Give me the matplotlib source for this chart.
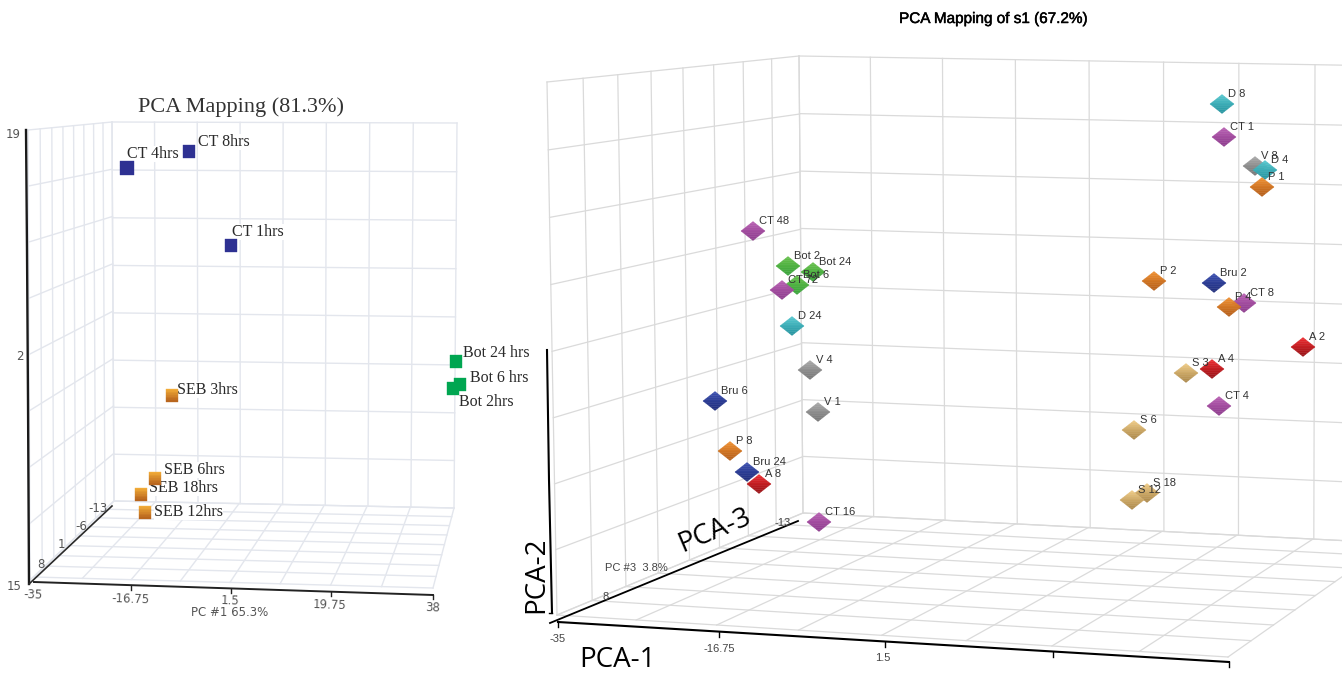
import numpy as np
import matplotlib
matplotlib.use("Agg")
import matplotlib.pyplot as plt
import matplotlib.patheffects as pe

# === Left panel data (in image pixels) ===
left_names = ["CT 4hrs", "CT 8hrs", "CT 1hrs", "Bot 24 hrs", "Bot 6 hrs", "Bot 2hrs",
              "SEB 3hrs", "SEB 6hrs", "SEB 18hrs", "SEB 12hrs"]
left_x = [127, 189, 231, 456, 460, 453, 172, 155, 141, 145]
left_y = [168, 151, 245, 361, 384, 388, 395, 478, 494, 512]
left_group = ["CT", "CT", "CT", "Bot", "Bot", "Bot", "SEB", "SEB", "SEB", "SEB"]
left_label_x = [127, 198, 232, 463, 470, 459, 177, 164, 149, 154]
left_label_y = [154, 142, 232, 353, 378, 402, 390, 470, 488, 512]

# === Right panel data ===
right_names = ["CT 48", "Bot 2", "Bot 6", "Bot 24", "CT 72", "D 24", "V 4", "V 1", "Bru 6", "P 8",
               "Bru 24", "A 8", "CT 16", "D 8", "CT 1", "V 8", "D 4", "P 1", "P 2", "Bru 2",
               "CT 8", "P 4", "A 2", "S 3", "A 4", "CT 4", "S 6", "S 18", "S 12"]
right_x = [753, 788, 797, 813, 782, 792, 810, 818, 715, 730,
           747, 759, 819, 1222, 1224, 1255, 1265, 1262, 1154, 1214,
           1244, 1229, 1303, 1186, 1212, 1219, 1134, 1147, 1132]
right_y = [231, 266, 285, 272, 290, 326, 370, 412, 401, 451,
           472, 484, 522, 104, 137, 166, 170, 187, 281, 283,
           303, 307, 347, 373, 369, 406, 430, 493, 500]
right_group = ["CT", "Bot", "Bot", "Bot", "CT", "D", "V", "V", "Bru", "P",
               "Bru", "A", "CT", "D", "CT", "V", "D", "P", "P", "Bru",
               "CT", "P", "A", "S", "A", "CT", "S", "S", "S"]

# tick labels
left_xticks = ["-35", "-16.75", "1.5", "19.75", "38"]
left_zticks = ["15", "8", "1", "-6", "-13"]
right_xticks = ["-35", "-16.75", "1.5"]

# colours
square_top = {"CT": "#2e3192", "Bot": "#00a651", "SEB": "#f7b23b"}
square_bot = {"CT": "#2e3192", "Bot": "#00a651", "SEB": "#b5611c"}
diamond_top = {"CT": "#b85fb2", "Bot": "#66c04a", "D": "#55c8cf", "V": "#a8a8a8", "Bru": "#3a4fb0",
               "P": "#f09030", "A": "#ee2a2e", "S": "#efcb85"}
diamond_bot = {"CT": "#8c3a8c", "Bot": "#38a23a", "D": "#24929e", "V": "#747474", "Bru": "#1f2c7a",
               "P": "#b35c18", "A": "#961216", "S": "#a98648"}


def quad_map(corners):
    # homographie du carre unite vers le quadrilatere
    src = [(0, 0), (1, 0), (1, 1), (0, 1)]
    A, b = [], []
    for (u, v), (x, y) in zip(src, corners):
        A.append([u, v, 1, 0, 0, 0, -u * x, -v * x])
        A.append([0, 0, 0, u, v, 1, -u * y, -v * y])
        b += [x, y]
    h = np.linalg.solve(np.array(A, float), np.array(b, float))

    def f(u, v):
        w = h[6] * u + h[7] * v + 1
        return (h[0] * u + h[1] * v + h[2]) / w, (h[3] * u + h[4] * v + h[5]) / w
    return f


def grid(ax, corners, color, lw, n=8):
    f = quad_map(corners)
    for i in range(n + 1):
        t = i / n
        ax.plot(*zip(f(t, 0), f(t, 1)), color=color, lw=lw, zorder=1)
        ax.plot(*zip(f(0, t), f(1, t)), color=color, lw=lw, zorder=1)


def blend(c1, c2, t):
    a = np.array(matplotlib.colors.to_rgb(c1))
    b = np.array(matplotlib.colors.to_rgb(c2))
    return a + (b - a) * t


def diamond(ax, x, y, top, bot, hw=12, hh=9.5, n=10):
    edges = np.linspace(-hh, hh, n + 1)
    for i in range(n):
        y0, y1 = edges[i], edges[i + 1]
        w0, w1 = hw * (1 - abs(y0) / hh), hw * (1 - abs(y1) / hh)
        xs = [x - w0, x + w0]
        ys = [y + y0, y + y0]
        if y0 < 0 < y1:
            xs += [x + hw]
            ys += [y]
        xs += [x + w1, x - w1]
        ys += [y + y1, y + y1]
        if y0 < 0 < y1:
            xs += [x - hw]
            ys += [y]
        c = blend(top, bot, (i + 0.5) / n)
        ax.fill(xs, ys, color=c, lw=0.25, zorder=3)


def square(ax, x, y, top, bot, hw=6, hh=6.5, n=8):
    edges = np.linspace(-hh, hh, n + 1)
    for i in range(n):
        c = blend(top, bot, (i + 0.5) / n)
        ax.fill([x - hw, x + hw, x + hw, x - hw],
                [y + edges[i], y + edges[i], y + edges[i + 1], y + edges[i + 1]],
                color=c, lw=0.25, zorder=3)


fig = plt.figure(figsize=(13.42, 6.73), dpi=100)
ax = fig.add_axes([0, 0, 1, 1])
ax.set_xlim(0, 1342)
ax.set_ylim(673, 0)
ax.axis("off")

# === Panneau gauche ===
GL = "#e3e6ed"
grid(ax, [(112, 122), (457, 123), (454, 508), (114, 501)], GL, 1.0)
grid(ax, [(28, 130), (112, 122), (114, 501), (30, 580)], GL, 1.0)
grid(ax, [(114, 501), (454, 508), (433, 588), (34, 577)], GL, 1.0)

ax.plot([26, 27, 28, 29], [130, 250, 400, 584], color="#1a1a1a", lw=1.7, zorder=2)
ax.plot([29, 112], [584, 506], color="#2a2a2a", lw=1.2, zorder=2)
ax.plot([34, 433], [582, 595], color="#222222", lw=1.4, zorder=2)
for tx, ty in zip([131, 231, 331, 433], [586, 589, 592, 595]):
    ax.plot([tx, tx], [ty, ty + 4], color="#222222", lw=1.0, zorder=2)

for name, gr, x, y, lx, ly in zip(left_names, left_group, left_x, left_y, left_label_x, left_label_y):
    big = name == "CT 4hrs"
    square(ax, x, y, square_top[gr], square_bot[gr], hw=7 if big else 6, hh=7 if big else 6.5)
    ax.text(lx, ly, name, family="Liberation Serif", fontsize=11.5, color="#2a2a2a", va="center", ha="left",
            zorder=2, bbox=dict(facecolor="white", edgecolor="none", pad=0.3))

ax.text(241, 107, "PCA Mapping (81.3%)", family="Liberation Serif", fontsize=16, color="#333333",
        ha="center", va="center")

tick_kw = dict(family="DejaVu Sans", fontsize=8.5, color="#555555", ha="center", va="center")
for t, tx, ty in zip(left_xticks, [33, 130, 230, 330, 433], [595, 599, 601, 605, 608]):
    ax.text(tx, ty, t, rotation=-2, **tick_kw)
ax.text(230, 612, "PC #1 65.3%", **tick_kw)
for t, tx, ty in zip(left_zticks, [14, 41, 61, 81, 98], [586, 564, 545, 526, 509]):
    ax.text(tx, ty, t, **tick_kw)
ax.text(13, 134, "19", **tick_kw)
ax.text(20, 357, "2", **tick_kw)

# === Panneau droit ===
GR = "#dadada"
grid(ax, [(799, 56), (1392, 66), (1390, 543), (803, 513)], GR, 0.9)
grid(ax, [(547, 82), (799, 56), (803, 513), (557, 615)], GR, 0.9)
grid(ax, [(803, 513), (1390, 543), (1228, 657), (557, 615)], GR, 0.9)

ax.plot([547, 549, 552], [350, 480, 613], color="black", lw=1.5, zorder=2)
ax.plot([549, 552], [613, 613], color="black", lw=1.0, zorder=2)
ax.plot([550, 798], [623, 521], color="black", lw=1.3, zorder=2)
ax.plot([558, 1229], [622, 662], color="black", lw=1.5, zorder=2)
for tx, ty in zip([558, 719, 885, 1053, 1229], [622, 632, 642, 652, 662]):
    ax.plot([tx, tx], [ty, ty + 5], color="black", lw=1.0, zorder=2)

for name, gr, x, y in zip(right_names, right_group, right_x, right_y):
    diamond(ax, x, y, diamond_top[gr], diamond_bot[gr])
for name, x, y in zip(right_names, right_x, right_y):
    ax.text(x + 6, y - 10, name, family="Liberation Sans", fontsize=8, color="#333333",
            va="center", ha="left", zorder=4)

ax.text(993, 19, "PCA Mapping of s1 (67.2%)", family="Liberation Sans", fontsize=11, color="black",
        ha="center", va="center", path_effects=[pe.withStroke(linewidth=0.35, foreground="black")])

small_kw = dict(family="Liberation Sans", fontsize=8, color="#444444", ha="center", va="center")
for t, tx, ty in zip(right_xticks, [558, 719, 883], [639, 649, 658]):
    ax.text(tx, ty, t, **small_kw)
ax.text(636, 568, "PC #3  3.8%", **small_kw)
ax.text(783, 523, "-13", **small_kw)
ax.text(606, 597, "8", **small_kw)

# Grands titres d'axes
big_kw = dict(family="Open Sans", fontsize=20, color="black", ha="center", va="center")
ax.text(617, 660, "PCA-1", **big_kw)
ax.text(536, 575, "PCA-2", rotation=90, **big_kw)
ax.text(715, 531, "PCA-3", rotation=23, **big_kw)

plt.savefig("out.png", dpi=100)
